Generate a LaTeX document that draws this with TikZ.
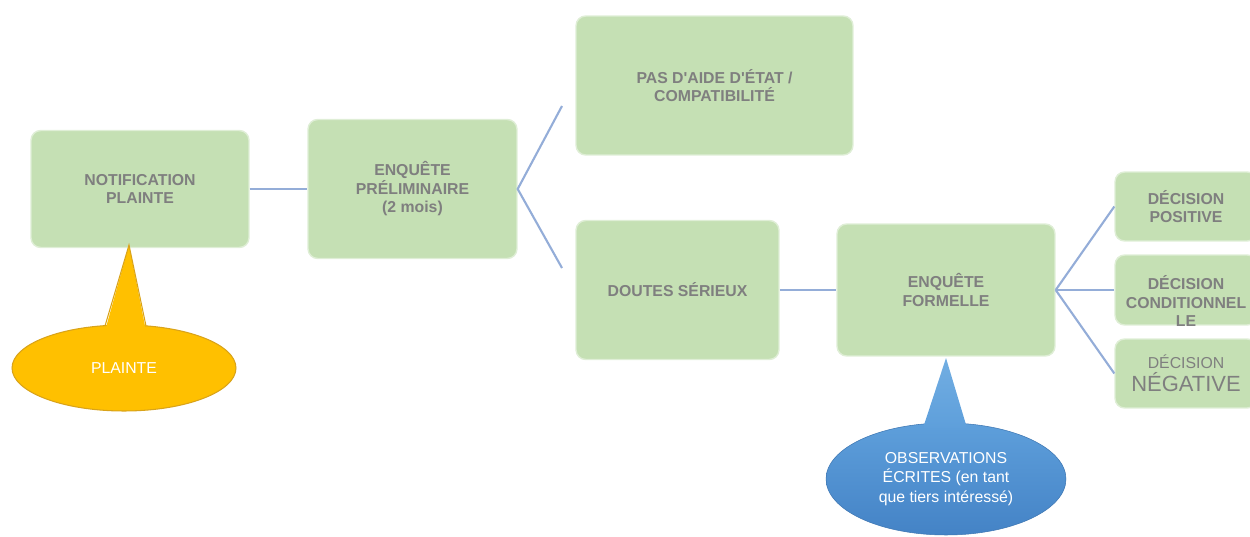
\documentclass[tikz,border=0pt]{standalone}
\usepackage{fontspec}
\setmainfont{Liberation Sans}
\usepackage{tikz}
\usetikzlibrary{shapes.geometric}

\definecolor{boxgreen}{HTML}{C5E0B4}
\definecolor{boxgray}{HTML}{7F7F7F}
\definecolor{linkblue}{HTML}{94ADD8}
\definecolor{plaintegold}{HTML}{FFC000}
\definecolor{plainteedge}{HTML}{D9A31A}
\definecolor{obstop}{HTML}{5E9FDB}
\definecolor{obsbottom}{HTML}{4483C6}
\definecolor{obstip}{HTML}{72AEE2}

\tikzset{
	stagebox/.style={rectangle, rounded corners=5.5pt, fill=boxgreen, draw=boxgreen!55!white, line width=0.8pt,
		text=boxgray, font=\fontsize{9}{10.5}\selectfont\bfseries, align=center, inner sep=2pt},
	stagetext/.style={text=boxgray, font=\fontsize{9}{10.5}\selectfont\bfseries, align=center, inner sep=0pt},
	link/.style={draw=linkblue, line width=1.2pt},
	plaintebubble/.style={ellipse, fill=plaintegold, draw=plainteedge, line width=0.6pt, text=white,
		font=\fontsize{9}{11}\selectfont, inner sep=0pt},
	obsbubble/.style={ellipse, top color=obstop, bottom color=obsbottom, draw=obsbottom!90!black, line width=0.3pt,
		text=white, font=\fontsize{9}{11}\selectfont, align=center, inner sep=0pt}
}

\begin{document}
\begin{tikzpicture}[x=0.02cm, y=-0.02cm]
			\clip (0, 0) rectangle (1250, 537);
			
			% First row
			\node[stagebox, minimum width=4.36cm, minimum height=2.34cm] (notif) at (140, 189) {NOTIFICATION\\PLAINTE};
			\node[stagebox, minimum width=4.18cm, minimum height=2.78cm] (prelim) at (412.5, 189) {ENQUÊTE\\PRÉLIMINAIRE\\(2 mois)};
			
			% Upper branch
			\node[stagebox, minimum width=5.54cm, minimum height=2.78cm] (pasaide) at (714.5, 85.5)
				{PAS D\textquotesingle AIDE D\textquotesingle ÉTAT /\\COMPATIBILITÉ};
			
			% Lower branch
			\node[stagebox, minimum width=4.06cm, minimum height=2.78cm] (doutes) at (677.5, 290) {DOUTES SÉRIEUX};
			\node[stagebox, minimum width=4.36cm, minimum height=2.64cm] (formelle) at (946, 290) {ENQUÊTE\\FORMELLE};
			
			% Decisions
			\node[stagebox, minimum width=2.84cm, minimum height=1.38cm] (decpos) at (1186, 206.5) {DÉCISION\\POSITIVE};
			\node[stagebox, minimum width=2.84cm, minimum height=1.40cm] (deccond) at (1186, 290) {};
			\node[stagetext] (condtext) at (1186, 301) {DÉCISION\\CONDITIONNEL\\LE};
			\node[stagebox, minimum width=2.84cm, minimum height=1.38cm, font=\fontsize{9}{10.5}\selectfont\mdseries] (decneg) at (1186, 373.5)
				{DÉCISION\\[1pt]{\fontsize{12.5}{13}\selectfont NÉGATIVE}};
			
			% Free ends of the branches
			\coordinate (upend) at (562, 106);
			\coordinate (downend) at (562, 268);
			
			% Connectors
			\draw[link] (notif.east) -- (prelim.west);
			\draw[link] (upend) -- (prelim.east) -- (downend);
			\draw[link] (doutes.east) -- (formelle.west);
			\draw[link] (formelle.east) -- (decpos.west);
			\draw[link] (formelle.east) -- (deccond.west);
			\draw[link] (formelle.east) -- (decneg.west);
			
			% Callout under the notification
			\node[plaintebubble, minimum width=4.48cm, minimum height=1.72cm] (plainte) at (124, 368) {PLAINTE};
			\fill[plaintegold] (105, 331) -- (129, 245) -- (146, 331) -- cycle;
			\draw[plainteedge, line width=0.6pt] (105, 326) -- (129, 245) -- (146, 326);
			
			% Callout under the formal investigation
			\node[obsbubble, minimum width=4.8cm, minimum height=2.24cm] (observ) at (946, 479)
				{OBSERVATIONS\\ÉCRITES (en tant\\que tiers intéressé)};
			\shade[top color=obstip, bottom color=obstop] (923, 428) -- (946, 358) -- (967, 428) -- cycle;
			
		\end{tikzpicture}
\end{document}
